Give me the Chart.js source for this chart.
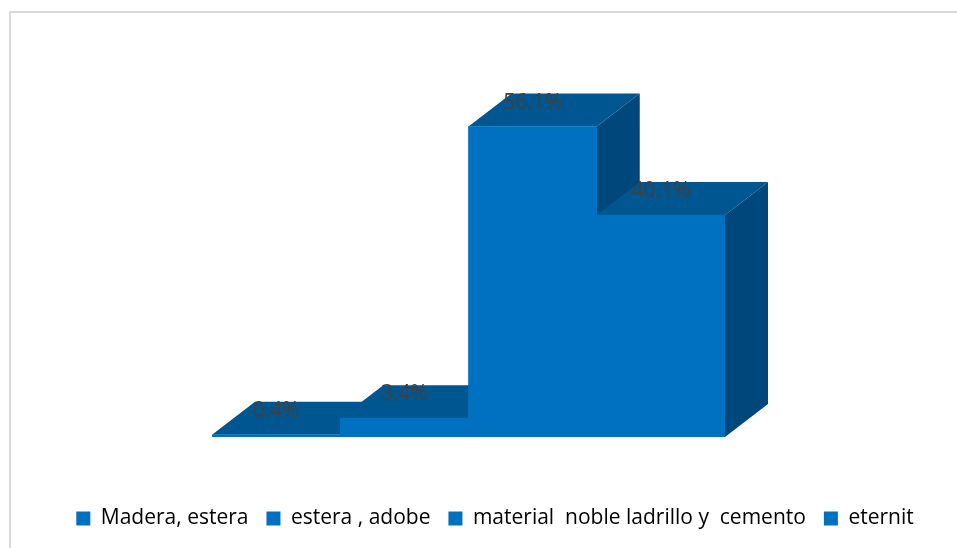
<!DOCTYPE html>
<html>
<head>
<meta charset="utf-8">
<script src="https://cdn.jsdelivr.net/npm/chart.js@4"></script>
<style>
  body { margin: 0; background: #fff; }
  #wrap { position: relative; width: 957px; height: 548px; overflow: hidden; }
  #frame { position: absolute; left: 9px; top: 11px; right: -5px; bottom: -5px; border: 2px solid #d9d9d9; }
  canvas { position: absolute; left: 0; top: 0; }
</style>
</head>
<body>
<div id="wrap">
  <div id="frame"></div>
  <canvas id="chart" width="957" height="548"></canvas>
</div>
<script>
const categories = ['Madera, estera', 'estera , adobe', 'material  noble ladrillo y  cemento', 'eternit'];
const percentages = [0.4, 3.4, 56.1, 40.1];
const yMax = 60;

const frontColor = '#0070c0';
const topColor = '#005691';
const sideColor = '#00477b';
const depthX = 43;
const depthY = 33;

function poly(ctx, color, pts) {
  ctx.fillStyle = color;
  ctx.beginPath();
  pts.forEach((p, i) => (i ? ctx.lineTo(p[0], p[1]) : ctx.moveTo(p[0], p[1])));
  ctx.closePath();
  ctx.fill();
}

// top and side faces, painted behind the bars
const depthFaces = {
  id: 'depthFaces',
  beforeDatasetsDraw(chart) {
    const ctx = chart.ctx;
    chart.getDatasetMeta(0).data.forEach((bar) => {
      const l = bar.x - bar.width / 2;
      const r = bar.x + bar.width / 2;
      poly(ctx, topColor, [[l, bar.y], [r, bar.y], [r + depthX, bar.y - depthY], [l + depthX, bar.y - depthY]]);
      poly(ctx, sideColor, [[r, bar.y], [r + depthX, bar.y - depthY], [r + depthX, bar.base - depthY], [r, bar.base]]);
    });
  },
  afterDatasetsDraw(chart) {
    const ctx = chart.ctx;
    ctx.save();
    ctx.font = '21px "Open Sans"';
    ctx.fillStyle = '#404040';
    ctx.textAlign = 'center';
    ctx.textBaseline = 'middle';
    chart.getDatasetMeta(0).data.forEach((bar, i) => {
      ctx.fillText(percentages[i].toFixed(1) + '%', bar.x, bar.y - 24);
    });
    ctx.restore();
  },
};

const spacer = (position, size) => ({
  position,
  display: true,
  ticks: { display: false },
  grid: { display: false },
  border: { display: false },
  afterFit(scale) {
    scale[position === 'bottom' ? 'height' : 'width'] = size;
  },
});

new Chart(document.getElementById('chart'), {
  type: 'bar',
  data: {
    labels: categories,
    datasets: [
      {
        data: percentages,
        backgroundColor: frontColor,
        barPercentage: 1,
        categoryPercentage: 1,
      },
    ],
  },
  plugins: [depthFaces],
  options: {
    responsive: false,
    animation: false,
    layout: { padding: { left: 33, right: 0, top: 105, bottom: 9 } },
    scales: {
      x: spacer('bottom', 53),
      y: { ...spacer('left', 179), min: 0, max: yMax },
      spacer: { ...spacer('right', 232), type: 'linear' },
    },
    plugins: {
      tooltip: { enabled: false },
      legend: {
        position: 'bottom',
        labels: {
          boxWidth: 14,
          boxHeight: 14,
          padding: 18,
          color: '#595959',
          font: { family: '"Open Sans"', size: 21 },
          generateLabels: () =>
            categories.map((text) => ({ text, fillStyle: frontColor, strokeStyle: frontColor, lineWidth: 0 })),
        },
      },
    },
  },
});
</script>
</body>
</html>
